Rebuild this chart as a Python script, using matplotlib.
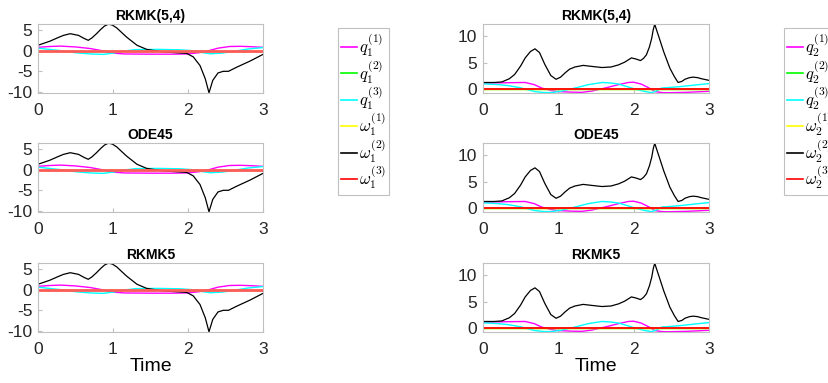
import numpy as np
import matplotlib
matplotlib.use('Agg')
import matplotlib.pyplot as plt

# ---- data (body 1 on the left, body 2 on the right)
t_w1 = [0.0, 0.16, 0.26, 0.34, 0.43, 0.54, 0.61, 0.67, 0.72, 0.78, 0.84, 0.89, 0.94,
        0.99, 1.05, 1.18, 1.32, 1.45, 1.67, 1.98, 2.07, 2.16, 2.23, 2.28, 2.33,
        2.40, 2.47, 2.54, 2.65, 2.83, 3.0]
w1_2 = [1.3, 2.3, 3.1, 3.7, 4.1, 3.7, 3.0, 2.5, 3.1, 4.1, 5.2, 6.0, 6.4,
        6.2, 5.5, 3.3, 1.3, 0.3, -0.3, -0.65, -1.5, -3.6, -6.8, -10.2, -7.2,
        -5.4, -5.0, -5.0, -4.0, -2.5, -0.9]

t_q1a = [0.0, 0.15, 0.3, 0.5, 0.7, 0.85, 1.0, 1.15, 1.5, 1.8, 1.98, 2.15, 2.28,
         2.4, 2.55, 2.7, 2.85, 3.0]
q1_1 = [0.8, 1.0, 1.1, 0.9, 0.5, 0.0, -0.6, -0.8, -0.85, -0.85, -0.8, -0.5, 0.0,
        0.6, 1.0, 1.05, 0.95, 0.8]
t_q1c = [0.0, 0.15, 0.3, 0.5, 0.7, 0.87, 1.0, 1.15, 1.3, 1.6, 1.9, 2.05, 2.2,
         2.3, 2.45, 2.6, 2.8, 3.0]
q1_3 = [0.6, 0.3, 0.0, -0.5, -0.8, -0.9, -0.6, -0.1, 0.25, 0.3, 0.2, 0.0, -0.5,
        -0.75, -0.6, -0.2, 0.4, 0.75]

t_w2 = [0.0, 0.15, 0.25, 0.35, 0.42, 0.5, 0.56, 0.63, 0.69, 0.75, 0.82, 0.9, 0.97,
        1.03, 1.09, 1.15, 1.22, 1.33, 1.45, 1.58, 1.7, 1.8, 1.88, 1.97, 2.03, 2.09,
        2.13, 2.17, 2.21, 2.24, 2.26, 2.28, 2.3, 2.34, 2.4, 2.44, 2.48, 2.54, 2.59,
        2.64, 2.68, 2.74, 2.79, 2.85, 2.9, 3.0]
w2_2 = [1.3, 1.3, 1.4, 2.0, 2.8, 4.4, 5.9, 7.1, 7.6, 6.9, 4.7, 2.6, 1.9,
        2.3, 3.1, 3.8, 4.2, 4.5, 4.3, 4.1, 4.2, 4.6, 5.1, 5.9, 5.7, 5.4,
        5.8, 6.5, 8.0, 9.6, 11.2, 12.2, 11.3, 9.6, 7.0, 5.5, 4.0, 2.4, 1.3,
        1.5, 1.9, 2.2, 2.3, 2.2, 2.0, 1.7]

t_q2a = [0.0, 0.3, 0.56, 0.68, 0.78, 0.9, 1.0, 1.15, 1.31, 1.45, 1.66, 1.8, 1.93,
         2.0, 2.1, 2.2, 2.28, 2.38, 2.46, 2.7, 3.0]
q2_1 = [1.2, 1.25, 1.3, 0.9, 0.25, -0.2, -0.4, -0.5, -0.55, -0.3, 0.4, 0.9, 1.3,
        1.35, 1.0, 0.3, -0.4, -0.6, -0.62, -0.55, -0.35]
t_q2c = [0.0, 0.2, 0.34, 0.5, 0.6, 0.69, 0.8, 0.91, 1.05, 1.22, 1.4, 1.58, 1.7,
         1.8, 1.92, 2.02, 2.15, 2.24, 2.3, 2.37, 2.6, 2.8, 3.0]
q2_3 = [1.05, 0.9, 0.7, 0.3, -0.1, -0.4, -0.58, -0.6, -0.3, 0.25, 0.9, 1.3, 1.2,
        1.0, 0.5, 0.05, -0.4, -0.6, -0.3, 0.25, 0.5, 0.8, 1.1]

methods = ['RKMK(5,4)', 'ODE45', 'RKMK5']

plt.rcParams['font.family'] = ['Liberation Sans', 'DejaVu Sans']
plt.rcParams['mathtext.fontset'] = 'cm'
plt.rcParams['axes.unicode_minus'] = False

gray = '#c0c0c0'
fig = plt.figure(figsize=(8.29, 3.83), dpi=100)

col_x = [38 / 829, 483 / 829]
col_w = [225 / 829, 226 / 829]
row_top = [24, 143, 263]
row_h = 69


def body(ax, tw, w, tqa, qa, tqc, qc, idx, yticks, red_style):
    zero = [0.0, 3.0]
    ax.plot(tqa, qa, color='#ff00ff', lw=1.0, label=r'$q_%d^{(1)}$' % idx)
    ax.plot(zero, [0, 0], color='#00ff00', lw=1.0, label=r'$q_%d^{(2)}$' % idx)
    ax.plot(tqc, qc, color='#00ffff', lw=1.0, label=r'$q_%d^{(3)}$' % idx)
    ax.plot(zero, [0, 0], color='#ffff00', lw=1.0, label=r'$\omega_%d^{(1)}$' % idx)
    ax.plot(tw, w, color='black', lw=0.9, label=r'$\omega_%d^{(2)}$' % idx)
    ax.plot(zero, [0, 0], label=r'$\omega_%d^{(3)}$' % idx, **red_style)
    lo = min(min(w), min(qa), min(qc))
    hi = max(max(w), max(qa), max(qc))
    ax.set_xlim(0, 3)
    ax.set_ylim(lo - 0.05, hi + 0.05)
    ax.set_xticks([0, 1, 2, 3])
    ax.set_yticks(yticks)
    ax.tick_params(direction='in', length=3, color=gray, labelsize=12.5,
                   labelcolor='#262626')
    ax.tick_params(axis='x', pad=7)
    ax.tick_params(axis='y', pad=4)
    for s in ax.spines.values():
        s.set_color(gray)
        s.set_linewidth(0.8)


for c in range(2):
    for r in range(3):
        bottom = 1 - (row_top[r] + row_h) / 383
        ax = fig.add_axes([col_x[c], bottom, col_w[c], row_h / 383])
        if c == 0:
            body(ax, t_w1, w1_2, t_q1a, q1_1, t_q1c, q1_3, 1, [-10, -5, 0, 5],
                 dict(color='#ff5a5a', lw=2.0))
        else:
            body(ax, t_w2, w2_2, t_q2a, q2_1, t_q2c, q2_3, 2, [0, 5, 10],
                 dict(color='red', lw=1.3))
        ax.set_title(methods[r], fontsize=10, fontweight='bold', pad=3)
        if r == 2:
            ax.set_xlabel('Time', fontsize=14, labelpad=1)
        if r == 0:
            leg_x = 338 / 829 if c == 0 else 784 / 829
            leg = ax.legend(loc='upper left', bbox_to_anchor=(leg_x, 1 - 28 / 383),
                            bbox_transform=fig.transFigure, fontsize=12,
                            handlelength=0.95, handletextpad=0.1,
                            labelspacing=-0.08, borderpad=0.2, borderaxespad=0,
                            fancybox=False, framealpha=1)
            leg.get_frame().set_edgecolor(gray)
            leg.get_frame().set_linewidth(0.8)
            for h in leg.get_lines():
                h.set_linewidth(1.2)
            leg.get_lines()[-1].set_color('red')

fig.savefig('out.png', dpi=100)
